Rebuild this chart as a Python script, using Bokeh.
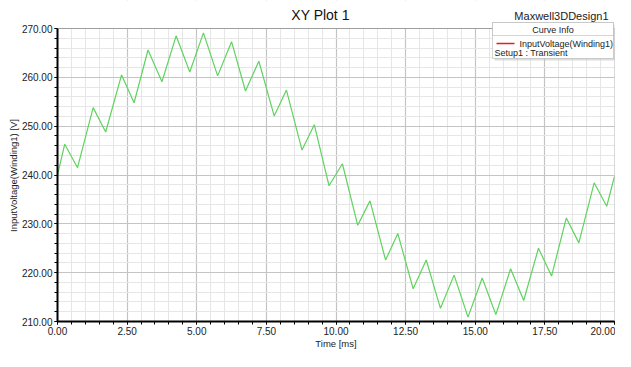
from bokeh.plotting import figure
from bokeh.models import (SingleIntervalTicker, PrintfTickFormatter, Label,
                          BoxAnnotation, Arrow, Range1d, Title)
from bokeh.embed import file_html
from bokeh.resources import INLINE

# ---- data ----
time_ms = [0.00, 0.26, 0.72, 1.28, 1.73, 2.30, 2.75, 3.25, 3.75, 4.26, 4.75,
           5.24, 5.75, 6.25, 6.75, 7.23, 7.78, 8.22, 8.78, 9.22, 9.75, 10.23,
           10.78, 11.22, 11.78, 12.22, 12.77, 13.24, 13.75, 14.24, 14.74,
           15.25, 15.74, 16.27, 16.74, 17.27, 17.74, 18.27, 18.72, 19.27,
           19.72, 20.00]
voltage = [240.0, 246.3, 241.5, 253.8, 248.8, 260.5, 254.8, 265.6, 259.1,
           268.5, 261.1, 269.1, 260.3, 267.3, 257.2, 263.3, 252.1, 257.4,
           245.1, 250.3, 237.8, 242.3, 229.7, 234.7, 222.6, 228.0, 216.7,
           222.6, 212.7, 219.5, 210.9, 218.9, 211.4, 220.8, 214.3, 225.0,
           219.3, 231.2, 226.1, 238.4, 233.6, 239.7]
x_limits = [0.0, 20.0]
y_limits = [210.0, 270.0]
x_major_step = 2.5
y_major_step = 10.0
title_text = "XY Plot 1"
design_text = "Maxwell3DDesign1"
legend_header = "Curve Info"
curve_name = "InputVoltage(Winding1)"
setup_name = "Setup1 : Transient"
x_label = "Time [ms]"
y_label = "InputVoltage(Winding1) [V]"

FONT = "Liberation Sans"

# ---- layout geometry (figure pixels) ----
W, H = 615, 351
FL, FR = 57, 614          # frame left / right
FT, FB = 0, 321           # frame top / bottom
PLOT_TOP = 28             # pixel row of the 270 line
# extra headroom above the data box so the title / legend can live in the frame
y_top = y_limits[1] + (y_limits[1] - y_limits[0]) * (PLOT_TOP - FT) / (FB - PLOT_TOP)


def dx(px):
    return x_limits[0] + (px - FL) / (FR - FL) * (x_limits[1] - x_limits[0])


def dy(py):
    return y_limits[0] + (FB - py) / (FB - FT) * (y_top - y_limits[0])


p = figure(width=W, height=H, output_backend="svg", toolbar_location=None,
           x_range=Range1d(*x_limits), y_range=Range1d(y_limits[0], y_top),
           min_border_left=FL, min_border_right=W - FR, min_border_top=FT,
           min_border_bottom=H - FB, background_fill_color="white",
           border_fill_color="white", outline_line_color=None)

for ax, step in ((p.xaxis, x_major_step), (p.yaxis, y_major_step)):
    ax.ticker = SingleIntervalTicker(interval=step, num_minor_ticks=5)
    ax.formatter = PrintfTickFormatter(format="%.2f")
    ax.major_label_text_font = FONT
    ax.major_label_text_font_size = "10px"
    ax.major_label_text_color = "#222222"
    ax.axis_line_color = "black"
    ax.axis_line_width = 2
    ax.major_tick_in = 0
    ax.major_tick_out = 3
    ax.minor_tick_in = 0
    ax.minor_tick_out = 3
    ax.major_tick_line_color = "black"
    ax.minor_tick_line_color = "black"
    ax.major_label_standoff = 2
    ax.axis_label_text_font = FONT
    ax.axis_label_text_font_size = "9.5px"
    ax.axis_label_text_font_style = "normal"
    ax.axis_label_text_color = "#222222"
    ax.axis_label_standoff = 0

p.yaxis.bounds = tuple(y_limits)
p.xaxis.axis_label = x_label

# y-axis caption, centred on the data box (not on the taller frame)
y_caption_len = 114
p.add_layout(Title(text=y_label, align="left",
                   offset=(FB - (PLOT_TOP + FB) / 2) - y_caption_len / 2,
                   standoff=0, text_font=FONT, text_font_size="9.5px",
                   text_font_style="normal", text_color="#222222"), "left")

for g in (p.xgrid, p.ygrid):
    g.grid_line_color = "#c4c4c4"
    g.grid_line_width = 1.2
    g.minor_grid_line_color = "#e6e6e6"
    g.minor_grid_line_width = 1

p.line(time_ms, voltage, line_color="#5fd35f", line_width=1.2)

# white band above the data box (hides grid lines there)
p.add_layout(BoxAnnotation(left=x_limits[0], right=x_limits[1], bottom=y_limits[1],
                           top=y_top, fill_color="white", fill_alpha=1, line_alpha=0))
# black outline of the data box
p.add_layout(BoxAnnotation(left=x_limits[0], right=x_limits[1], bottom=y_limits[0],
                           top=y_limits[1], fill_alpha=0, line_color="black",
                           line_width=1))

# title and design name
p.add_layout(Label(x=dx(320), y=dy(14), text=title_text, text_align="center",
                   text_baseline="middle", text_font=FONT,
                   text_font_size="14px", text_color="#111111"))
p.add_layout(Label(x=dx(608), y=dy(15), text=design_text, text_align="right",
                   text_baseline="middle", text_font=FONT,
                   text_font_size="11px", text_color="#222222"))

# "Curve Info" box
BL, BR, BT, BH, BB = 492, 613, 22, 35, 58
p.add_layout(BoxAnnotation(left=dx(BL + 2), right=dx(BR + 3), top=dy(BT + 2),
                           bottom=dy(BB + 2), fill_color="#bbbbbb", fill_alpha=0.5,
                           line_alpha=0))
p.add_layout(BoxAnnotation(left=dx(BL), right=dx(BR), top=dy(BT), bottom=dy(BB),
                           fill_color="white", fill_alpha=1,
                           line_color="#777777", line_width=1))
p.add_layout(BoxAnnotation(left=dx(BL), right=dx(BR), top=dy(BT), bottom=dy(BH),
                           fill_color="white", fill_alpha=1,
                           line_color="#777777", line_width=1))
p.add_layout(Label(x=dx((BL + BR) / 2), y=dy(29), text=legend_header,
                   text_align="center", text_baseline="middle", text_font=FONT,
                   text_font_size="9px", text_color="#222222"))
p.add_layout(Arrow(start=None, end=None, x_start=dx(BL + 4), y_start=dy(43),
                   x_end=dx(BL + 22), y_end=dy(43), line_color="#dd2222",
                   line_width=1.5))
p.add_layout(Label(x=dx(BL + 27), y=dy(43), text=curve_name, text_align="left",
                   text_baseline="middle", text_font=FONT,
                   text_font_size="9px", text_color="#222222"))
p.add_layout(Label(x=dx(BL + 2), y=dy(52), text=setup_name, text_align="left",
                   text_baseline="middle", text_font=FONT,
                   text_font_size="9px", text_color="#222222"))

open("out.html", "w").write(file_html(p, INLINE))
